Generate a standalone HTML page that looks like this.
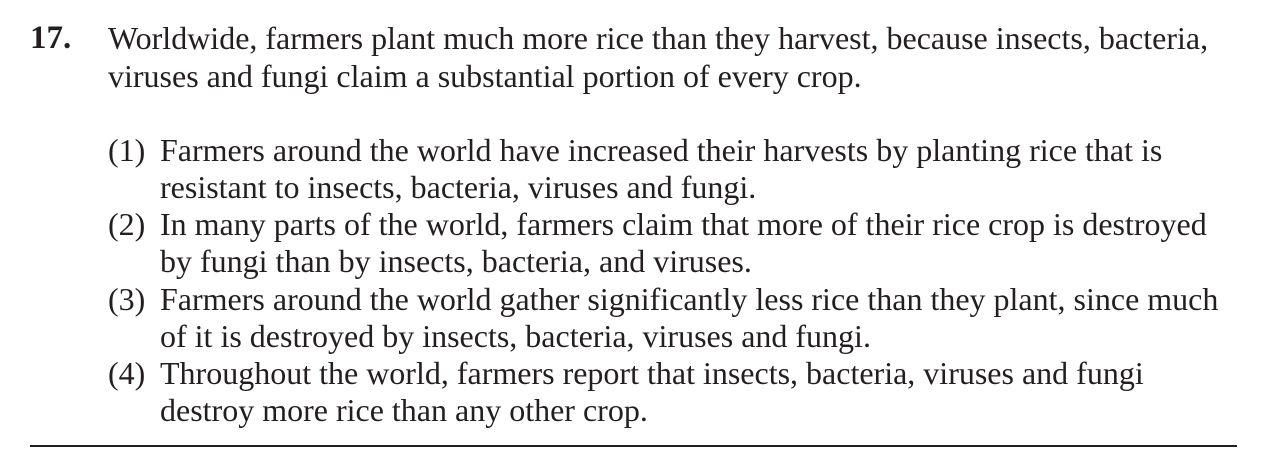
<!DOCTYPE html>
<html><head><meta charset="utf-8"><style>
html,body{margin:0;padding:0;background:#fff;width:1280px;height:458px;overflow:hidden}
body{position:relative;font-family:"Liberation Serif","Times New Roman",serif;color:#231f20}
.l{position:absolute;white-space:nowrap;font-size:32px;line-height:38px}
.num{font-weight:bold;font-size:33px}
.rule{position:absolute;left:30px;top:445px;width:1207px;height:1.5px;background:#231f20}
</style></head><body>
<div class="l num" style="left:30px;top:19px">17.</div>
<div class="l" style="left:108px;top:19px">Worldwide, farmers plant much more rice than they harvest, because insects, bacteria,</div>
<div class="l" style="left:108px;top:57px">viruses and fungi claim a substantial portion of every crop.</div>

<div class="l" style="left:108px;top:131px">(1)</div>
<div class="l" style="left:160px;top:131px">Farmers around the world have increased their harvests by planting rice that is</div>
<div class="l" style="left:160px;top:168px">resistant to insects, bacteria, viruses and fungi.</div>

<div class="l" style="left:108px;top:205px">(2)</div>
<div class="l" style="left:160px;top:205px">In many parts of the world, farmers claim that more of their rice crop is destroyed</div>
<div class="l" style="left:160px;top:242px">by fungi than by insects, bacteria, and viruses.</div>

<div class="l" style="left:108px;top:280px">(3)</div>
<div class="l" style="left:160px;top:280px">Farmers around the world gather significantly less rice than they plant, since much</div>
<div class="l" style="left:160px;top:317px">of it is destroyed by insects, bacteria, viruses and fungi.</div>

<div class="l" style="left:108px;top:354px">(4)</div>
<div class="l" style="left:160px;top:354px">Throughout the world, farmers report that insects, bacteria, viruses and fungi</div>
<div class="l" style="left:160px;top:391px">destroy more rice than any other crop.</div>

<div class="rule"></div>
</body></html>
